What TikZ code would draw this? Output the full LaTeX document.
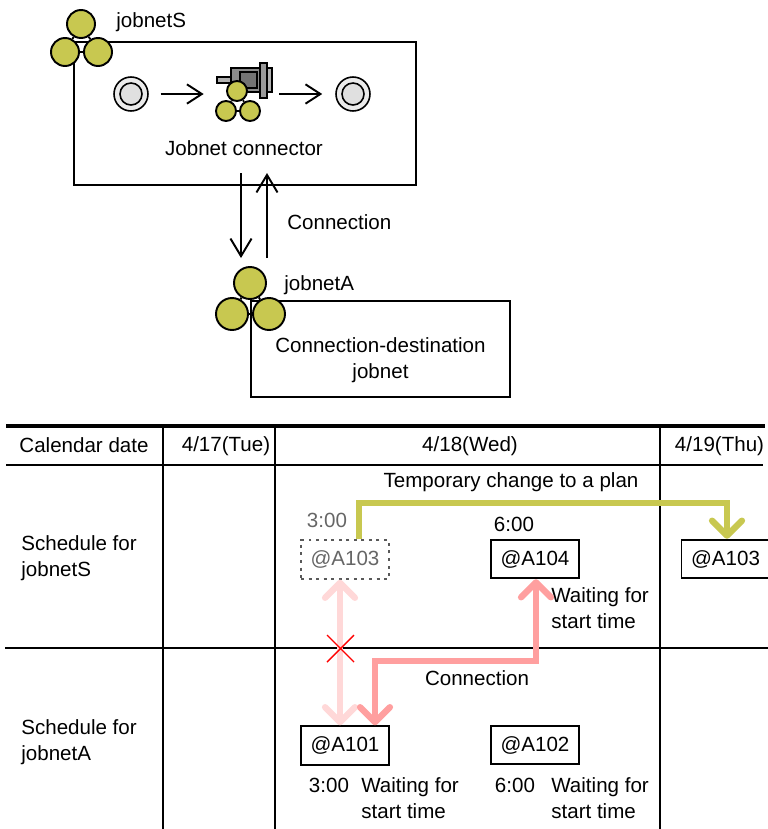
\documentclass[tikz,border=0pt]{standalone}
\usepackage{fontspec}
\setmainfont{Liberation Sans}
\usetikzlibrary{arrows.meta,calc}
\definecolor{jobolive}{HTML}{C8C850}
\definecolor{linkpink}{HTML}{FF9F9F}
\definecolor{fadepink}{HTML}{FFD8D8}
\tikzset{
    label/.style = {inner sep=0pt, align=center, font=\fontsize{11.7}{14.6}\selectfont},
    ball/.style = {draw, circle, fill=jobolive, line width=1.1pt, inner sep=0pt},
    bigball/.style = {ball, minimum size=.56cm},
    hugeball/.style = {ball, minimum size=.64cm},
    tinyball/.style = {ball, minimum size=.4cm},
    ring/.style = {draw, circle, fill=black!8, minimum size=.68cm, inner sep=0pt, line width=.9pt},
    hole/.style = {draw, circle, fill=black!12, minimum size=.44cm, inner sep=0pt, line width=.9pt},
    frame/.style = {draw, rectangle, line width=1.1pt, inner sep=0pt},
    unit/.style = {frame, label, fill=white, minimum height=.77cm, minimum width=1.76cm},
    ghost/.style = {unit, draw=black!65, dash pattern=on 1.7pt off 2.6pt, text=black!60},
    arrow/.style = {draw, line width=1.1pt, -{Straight Barb[length=8.5pt,width=11pt]}},
    longarrow/.style = {draw, line width=1.1pt, -{Straight Barb[length=10pt,width=12pt]}},
    thickolive/.style = {draw=jobolive, line width=3.6pt, -{Straight Barb[length=8.5pt,width=17pt,round]}},
    thickpink/.style = {draw=linkpink, line width=3.6pt, {Straight Barb[length=8.5pt,width=17pt,round]}-{Straight Barb[length=8.5pt,width=17pt,round]}},
    fadedpink/.style = {draw=fadepink, line width=3.6pt, {Straight Barb[length=8.5pt,width=17pt,round]}-{Straight Barb[length=8.5pt,width=17pt,round]}},
    rule/.style = {line width=1.1pt}
}
\begin{document}
\begin{tikzpicture}[x=.02cm,y=-.02cm]
    \useasboundingbox (0,0) rectangle (768,829);
    % frames of the two jobnets
    \node[frame, minimum width=6.84cm, minimum height=2.86cm] (boxS) at (245,113.5) {};
    \node[frame, minimum width=5.18cm, minimum height=1.92cm] (boxA) at (380.5,349) {};
    % jobnetS icon
    \node[bigball] (sT) at (81,24) {};
    \node[bigball] (sL) at (65,52) {};
    \node[bigball] (sR) at (98,52) {};
    \draw[line width=1.1pt] (sT) -- (sL);
    \draw[line width=1.1pt] (sT) -- (sR);
    \draw[line width=1.1pt] (sL) -- (sR);
    \node[label, anchor=west] (nameS) at (116,22.5) {jobnetS};
    % start and end marks
    \node[ring] (startO) at (131,94) {};
    \node[hole] (startI) at (131,94) {};
    \node[ring] (endO) at (353,94) {};
    \node[hole] (endI) at (353,94) {};
    % plug
    \draw[fill=black!30, line width=.6pt] (217,77) rectangle (232,83);
    \draw[fill=black!45, line width=.6pt] (231,68) rectangle (272,92);
    \draw[fill=black!30, line width=.6pt] (267,68) rectangle (272,92);
    \draw[fill=black!55, line width=.6pt] (240,72) rectangle (257,88);
    \draw[fill=black!40, line width=.6pt] (260,63) rectangle (267,98);
    \node[tinyball] (cT) at (237,91) {};
    \node[tinyball] (cL) at (226,111) {};
    \node[tinyball] (cR) at (250,111) {};
    \draw[line width=1pt] (cT) -- (cL);
    \draw[line width=1pt] (cT) -- (cR);
    \draw[line width=1pt] (cL) -- (cR);
    \node[minimum width=1.1cm, minimum height=.2cm, inner sep=0pt] (conn) at (244.5,94) {};
    \draw[arrow, shorten <=6.8pt, shorten >=7.4pt] (startO) -- (conn);
    \draw[arrow, shorten <=4pt, shorten >=7.4pt] (conn) -- (endO);
    \node[label] (connName) at (244,148) {Jobnet connector};
    % between the frames
    \coordinate (downS) at (241,173);
    \coordinate (downA) at (241,258);
    \coordinate (upS) at (267,173);
    \coordinate (upA) at (267,258);
    \draw[longarrow] (downS) -- (downA);
    \draw[longarrow] (upA) -- (upS);
    \node[label, anchor=west] (connText) at (287,222) {Connection};
    % jobnetA icon
    \node[hugeball] (aT) at (250,283) {};
    \node[hugeball] (aL) at (232,314) {};
    \node[hugeball] (aR) at (269,314) {};
    \draw[line width=1.1pt] (aT) -- (aL);
    \draw[line width=1.1pt] (aT) -- (aR);
    \draw[line width=1.1pt] (aL) -- (aR);
    \node[label, anchor=west] (nameA) at (284,285) {jobnetA};
    \node[label] (destText) at (380.5,360) {Connection-destination\\jobnet};
    % table
    \draw[line width=2.2pt] (6,426) -- (765,426);
    \draw[rule] (6,465) -- (763,465);
    \draw[rule] (5,648) -- (768,648);
    \draw[rule] (163,426) -- (163,829);
    \draw[rule] (275,426) -- (275,829);
    \draw[rule] (660,426) -- (660,829);
    \node[label] (dateHead) at (84,445) {Calendar date};
    \node[label] (dateA) at (226,446) {4/17(Tue)};
    \node[label] (dateB) at (470,446) {4/18(Wed)};
    \node[label] (dateC) at (719.5,446) {4/19(Thu)};
    \node[label, align=left, anchor=west] (rowS) at (21,558) {Schedule for\\jobnetS};
    \node[label, align=left, anchor=west] (rowA) at (21,742) {Schedule for\\jobnetA};
    \node[label] (planText) at (511,482) {Temporary change to a plan};
    % units
    \node[ghost] (oldA103) at (345,559.5) {@A103};
    \node[unit] (A104) at (535,559) {@A104};
    \node[unit] (newA103) at (725.5,559) {@A103};
    \node[unit] (A101) at (345,745.5) {@A101};
    \node[unit] (A102) at (535,745) {@A102};
    \node[label, text=black!60] (timeOld) at (327,520) {3:00};
    \node[label] (timeB) at (514,524) {6:00};
    \node[label] (timeC) at (329,785) {3:00};
    \node[label] (timeD) at (515,785) {6:00};
    \node[label, align=left, anchor=west] (waitB) at (551,608) {Waiting for\\start time};
    \node[label, align=left, anchor=west] (waitC) at (361,798) {Waiting for\\start time};
    \node[label, align=left, anchor=west] (waitD) at (551,798) {Waiting for\\start time};
    \node[label] (linkText) at (477,678) {Connection};
    % change and links
    \draw[thickolive] ([xshift=.28cm]oldA103.north) -- ++(0,-36) -| ([xshift=.03cm]newA103.north);
    \draw[fadedpink] ([xshift=-.1cm]oldA103.south) -- ([xshift=-.1cm]A101.north);
    \draw[thickpink] ([xshift=.6cm]A101.north) -- ++(0,-64) -| ([xshift=.02cm]A104.south);
    \draw[red, line width=.8pt] (327,635) -- (354,662) (327,662) -- (354,635);
\end{tikzpicture}
\end{document}
